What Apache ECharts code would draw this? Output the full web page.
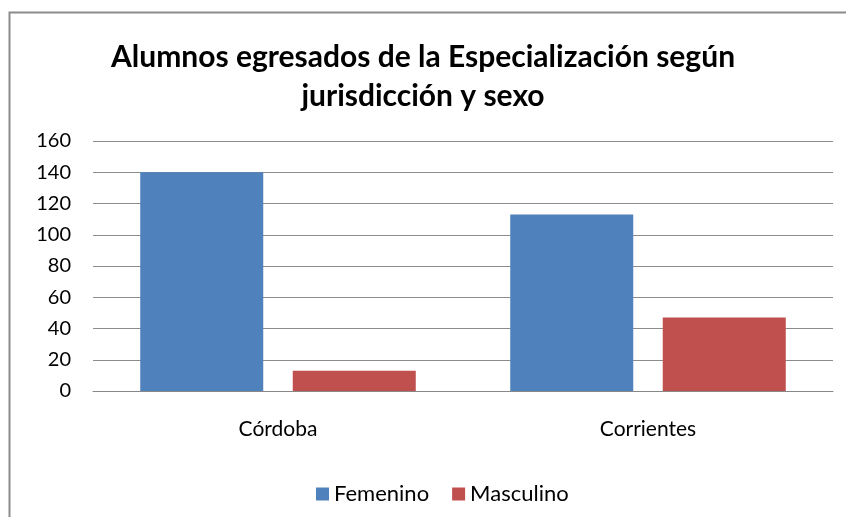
<!DOCTYPE html>
<html>
<head>
<meta charset="utf-8">
<script src="https://cdn.jsdelivr.net/npm/echarts@6/dist/echarts.min.js"></script>
<style>
  html, body { margin: 0; padding: 0; background: #fff; }
  #chart { width: 846px; height: 517px; }
</style>
</head>
<body>
<div id="chart"></div>
<script>
var categories = ['Córdoba', 'Corrientes'];
var femenino = [140, 113];
var masculino = [13, 47];
var titleText = 'Alumnos egresados de la Especialización según\njurisdicción y sexo';

var chart = echarts.init(document.getElementById('chart'));
var font = 'Lato, "Open Sans", sans-serif';

chart.setOption({
    animation: false,
    textStyle: { fontFamily: font },
    graphic: [{
        type: 'rect',
        shape: { x: 9.5, y: 12.5, width: 900, height: 600 },
        style: { fill: 'none', stroke: '#8c8c8c', lineWidth: 2 }
    }],
    title: {
        text: titleText,
        left: 'center',
        top: 33,
        textStyle: { fontFamily: font, fontWeight: 'bold', fontSize: 30, lineHeight: 39, color: '#000' }
    },
    legend: {
        top: 478,
        left: 311,
        itemWidth: 13,
        itemHeight: 13,
        icon: 'rect',
        itemGap: 23,
        textStyle: { fontFamily: font, fontSize: 22, color: '#000' },
        data: ['Femenino', 'Masculino']
    },
    grid: { left: 93, right: 13, top: 141, bottom: 126 },
    xAxis: {
        type: 'category',
        data: categories,
        axisLine: { lineStyle: { color: '#888', width: 1 } },
        axisTick: { show: false },
        axisLabel: { color: '#000', fontSize: 21, margin: 28, fontFamily: font }
    },
    yAxis: {
        type: 'value',
        min: 0,
        max: 160,
        interval: 20,
        axisLine: { show: false },
        axisTick: { show: false },
        splitLine: { lineStyle: { color: '#8c8c8c', width: 1 } },
        axisLabel: { color: '#000', fontSize: 20, margin: 22, fontFamily: font }
    },
    series: [{
        name: 'Femenino',
        type: 'bar',
        data: femenino,
        barWidth: 123,
        barGap: '24%',
        itemStyle: { color: '#4F81BD' }
    }, {
        name: 'Masculino',
        type: 'bar',
        data: masculino,
        barWidth: 123,
        itemStyle: { color: '#C0504D' }
    }]
});
</script>
</body>
</html>
